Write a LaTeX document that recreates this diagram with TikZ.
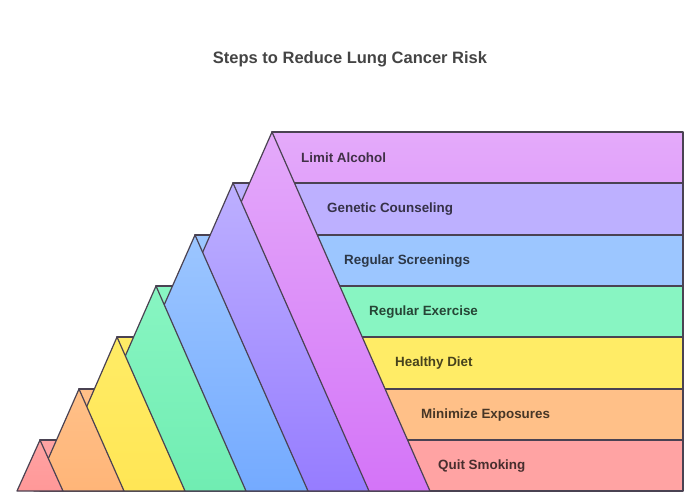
\documentclass[tikz,border=0pt]{standalone}
\usepackage{fontspec}
\setmainfont{Liberation Sans}
\definecolor{edgeC}{HTML}{4A4252}
\definecolor{titleC}{HTML}{444444}
\definecolor{smokeC}{HTML}{FFA3A3}
\definecolor{smokeD}{HTML}{FF9898}
\definecolor{exposeC}{HTML}{FFC088}
\definecolor{exposeD}{HTML}{FFB578}
\definecolor{dietC}{HTML}{FFEC66}
\definecolor{dietD}{HTML}{FFE655}
\definecolor{exerciseC}{HTML}{88F5C2}
\definecolor{exerciseD}{HTML}{70EDB2}
\definecolor{screenC}{HTML}{9CC6FF}
\definecolor{screenD}{HTML}{74AAFF}
\definecolor{geneticC}{HTML}{BDB0FF}
\definecolor{geneticD}{HTML}{967CFF}
\definecolor{alcoholC}{HTML}{E4AAFA}
\definecolor{alcoholD}{HTML}{D474F8}
\tikzset{
  band/.style={draw=edgeC, line width=1.2pt, line join=round},
  tri/.style={draw=edgeC, line width=1.2pt, line join=round},
  steplabel/.style={anchor=west, inner sep=0pt, font=\fontsize{13.4}{16}\selectfont\bfseries},
}
\begin{document}
\begin{tikzpicture}[x=1pt,y=-1pt]
  \useasboundingbox (0,0) rectangle (700,500);

  \node[font=\fontsize{16.5}{20}\selectfont\bfseries, text=titleC] (title) at (350,59) {Steps to Reduce Lung Cancer Risk};

  % bands behind the triangles
  \draw[band, top color=alcoholC, bottom color=alcoholC!85!alcoholD] (272,132) rectangle (683,183);
  \draw[band, fill=geneticC] (233,183) rectangle (683,235);
  \draw[band, fill=screenC] (195,235) rectangle (683,286);
  \draw[band, fill=exerciseC] (156,286) rectangle (683,337);
  \draw[band, fill=dietC] (117,337) rectangle (683,389);
  \draw[band, fill=exposeC] (79,389) rectangle (683,440);
  \draw[band, fill=smokeC] (40,440) rectangle (683,491);

  % triangles, back to front
  \draw[tri, top color=alcoholC, bottom color=alcoholD] (114,491)--(272,132)--(430,491)--cycle;
  \draw[tri, top color=geneticC, bottom color=geneticD] (98,491)--(233,183)--(369,491)--cycle;
  \draw[tri, top color=screenC, bottom color=screenD] (82,491)--(195,235)--(308,491)--cycle;
  \draw[tri, top color=exerciseC, bottom color=exerciseD] (66,491)--(156,286)--(246,491)--cycle;
  \draw[tri, top color=dietC, bottom color=dietD] (50,491)--(117,337)--(185,491)--cycle;
  \draw[tri, top color=exposeC, bottom color=exposeD] (34,491)--(79,389)--(124,491)--cycle;
  \draw[tri, top color=smokeC, bottom color=smokeD] (17,491)--(40,440)--(63,491)--cycle;

  \node[steplabel, text=alcoholC!28!black] (alcohol) at (301,158) {Limit Alcohol};
  \node[steplabel, text=geneticC!28!black] (genetic) at (327,209.5) {Genetic Counseling};
  \node[steplabel, text=screenC!28!black] (screen) at (344,261) {Regular Screenings};
  \node[steplabel, text=exerciseC!28!black] (exercise) at (369,312) {Regular Exercise};
  \node[steplabel, text=dietC!28!black] (diet) at (395,363.5) {Healthy Diet};
  \node[steplabel, text=exposeC!28!black] (expose) at (421,415) {Minimize Exposures};
  \node[steplabel, text=smokeC!28!black] (smoke) at (438,466) {Quit Smoking};
\end{tikzpicture}
\end{document}
